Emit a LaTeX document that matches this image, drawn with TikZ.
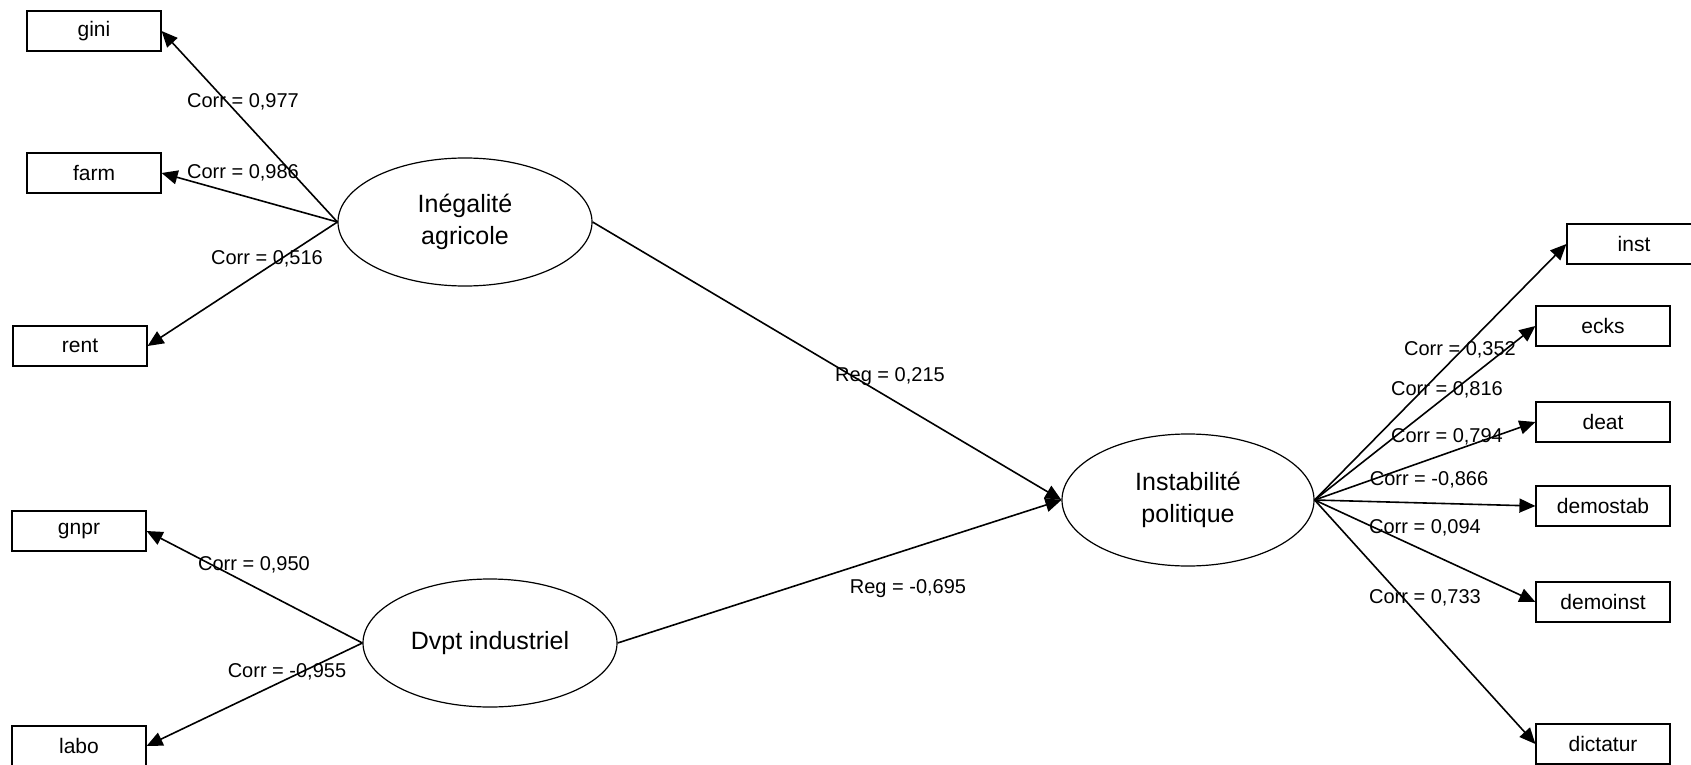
\documentclass[tikz,border=0pt]{standalone}
\usepackage{fontspec}
\setmainfont{Liberation Sans}
\usetikzlibrary{shapes.geometric,arrows.meta}

\begin{document}
\begin{tikzpicture}[x=0.5pt,y=-0.5pt,
  manifest/.style={draw,line width=0.6pt,minimum width=67pt,minimum height=20pt,inner sep=0pt,font=\fontsize{10.5}{12}\selectfont},
  latent/.style={draw,ellipse,line width=0.6pt,inner sep=0pt,align=center,font=\fontsize{12.5}{16}\selectfont},
  arr/.style={-{Triangle[length=8pt,width=7pt]},line width=0.8pt},
  coef/.style={inner sep=0pt,font=\fontsize{10}{12}\selectfont}]
\useasboundingbox (0,0) rectangle (1691,765);

% Latent variables
\node[latent,minimum width=127pt,minimum height=64pt] (ineg) at (465,222) {Inégalité\\agricole};
\node[latent,minimum width=127pt,minimum height=64pt] (dvpt) at (490,643) {Dvpt industriel};
\node[latent,minimum width=126pt,minimum height=66pt] (instab) at (1188,500) {Instabilité\\politique};

% Manifest variables, left
\node[manifest] (gini) at (94,31) {gini};
\node[manifest] (farm) at (94,173) {farm};
\node[manifest] (rent) at (80,346) {rent};
\node[manifest] (gnpr) at (79,531) {gnpr};
\node[manifest] (labo) at (79,746) {labo};

% Manifest variables, right
\node[manifest] (inst) at (1634,244) {inst};
\node[manifest] (ecks) at (1603,326) {ecks};
\node[manifest] (deat) at (1603,422) {deat};
\node[manifest] (demostab) at (1603,506) {demostab};
\node[manifest] (demoinst) at (1603,602) {demoinst};
\node[manifest] (dictatur) at (1603,744) {dictatur};

% Loadings
\foreach \v in {gini,farm,rent} {
\draw[arr] (ineg.west) -- (\v.east);
}
\foreach \v in {gnpr,labo} {
\draw[arr] (dvpt.west) -- (\v.east);
}
\foreach \v in {inst,ecks,deat,demostab,demoinst,dictatur} {
\draw[arr] (instab.east) -- (\v.west);
}

% Regressions
\draw[arr] (ineg.east) -- (instab.west);
\draw[arr] (dvpt.east) -- (instab.west);

% Coefficients
\node[coef] (cgini) at (243,102) {Corr = 0,977};
\node[coef] (cfarm) at (243,173) {Corr = 0,986};
\node[coef] (crent) at (267,259) {Corr = 0,516};
\node[coef] (cgnpr) at (254,565) {Corr = 0,950};
\node[coef] (clabo) at (287,672) {Corr = -0,955};
\node[coef] (cinst) at (1460,350) {Corr = 0,352};
\node[coef] (cecks) at (1447,390) {Corr = 0,816};
\node[coef] (cdeat) at (1447,437) {Corr = 0,794};
\node[coef] (cdemostab) at (1429,480) {Corr = -0,866};
\node[coef] (cdemoinst) at (1425,528) {Corr = 0,094};
\node[coef] (cdictatur) at (1425,598) {Corr = 0,733};
\node[coef] (rineg) at (890,377) {Reg = 0,215};
\node[coef] (rdvpt) at (908,589) {Reg = -0,695};
\end{tikzpicture}
\end{document}
